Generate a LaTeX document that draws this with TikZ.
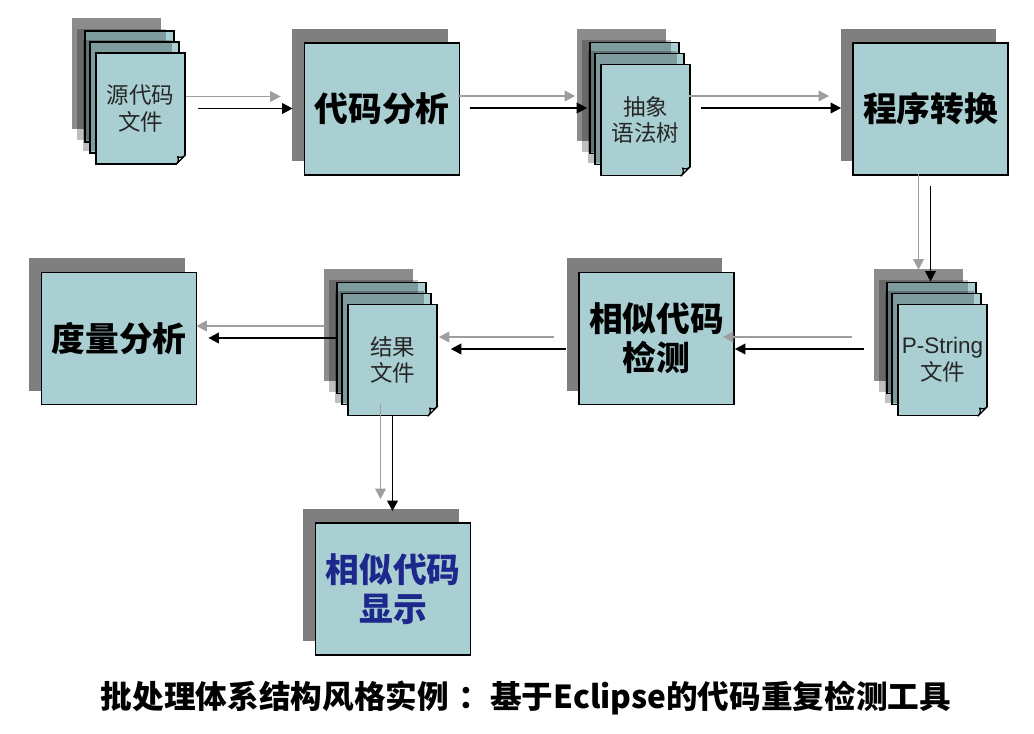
\documentclass[tikz,border=0pt]{standalone}
\usepackage{fontspec}
\setmainfont{Liberation Sans}
\newfontfamily\cjk{Noto Sans CJK SC}
\newfontfamily\latin{Liberation Sans}
\usetikzlibrary{arrows.meta,calc,shadows}

\definecolor{boxfill}{RGB}{169,207,211}
\definecolor{foldfill}{RGB}{205,228,231}
\definecolor{showblue}{RGB}{28,40,140}

\tikzset{
  procbox/.style={draw=black, line width=1.2pt, fill=boxfill, minimum width=3.875cm,
    minimum height=3.3cm, inner sep=0pt, align=center,
    font=\cjk\bfseries\fontsize{24}{28}\selectfont,
    drop shadow={shadow xshift=-0.3cm, shadow yshift=0.35cm, fill=black, opacity=0.5}},
  page/.style={draw=black, line width=1.1pt, fill=boxfill, minimum width=2.225cm,
    minimum height=2.775cm, inner sep=0pt, align=center, text=black!85,
    font=\cjk\fontsize{16}{19}\selectfont},
  pageshade/.style={drop shadow={shadow xshift=-0.325cm, shadow yshift=0.325cm, fill=black, opacity=#1}},
  pageshade/.default=0.25,
  flow/.style={line width=1.4pt, -{Triangle[length=7.5pt,width=7.5pt]}},
  flowshadow/.style={line width=1.4pt, draw=black!38, -{Triangle[length=7.5pt,width=7.5pt,fill=black!38]}}
}

% folded corner of a page
\newcommand{\pagefold}[1]{%
  \fill[white] ($(#1.south east)+(1,-11)$) -- ($(#1.south east)+(1,1)$) -- ($(#1.south east)+(-11,1)$) -- cycle;
  \draw[line width=0.9pt, fill=foldfill] ($(#1.south east)+(0,-10)$)
    .. controls ($(#1.south east)+(-4,-7)$) .. ($(#1.south east)+(-8,-8)$)
    .. controls ($(#1.south east)+(-7,-4)$) .. ($(#1.south east)+(-10,0)$) -- cycle;
}
% arrow with its grey shadow
\newcommand{\flowline}[2]{%
  \draw[flowshadow] ($#1+(-12,-12)$) -- ($#2+(-12,-12)$);
  \draw[flow] ($#1$) -- ($#2$);
}

\begin{document}
\begin{tikzpicture}[x=0.025cm,y=-0.025cm]
\useasboundingbox (0,0) rectangle (1034,734);

% processing steps
\node[procbox] (ana) at (382,109) {代码分析};
\node[procbox] (conv) at (930.5,109) {程序转换};
\node[procbox] (det) at (656.5,338.5) {相似代码\\检测};
\node[procbox] (met) at (119,338.5) {度量分析};
\node[procbox, text=showblue] (disp) at (393,589) {相似代码\\显示};

% file stacks
\node[page, pageshade=0.45] (src-b) at (129.5,86.5) {};
\node[page, pageshade] (src-m) at (134.5,97.5) {};
\node[page, pageshade] (src) at (140.5,108.5) {源代码\\文件};
\pagefold{src}
\node[page, pageshade=0.45] (ast-b) at (634.5,98) {};
\node[page, pageshade] (ast-m) at (639.5,109) {};
\node[page, pageshade] (ast) at (645.5,120) {抽象\\语法树};
\pagefold{ast}
\node[page, pageshade=0.45] (pstr-b) at (931.5,338) {};
\node[page, pageshade] (pstr-m) at (936.5,349) {};
\node[page, pageshade] (pstr) at (942.5,360) {{\latin P-String}\\文件};
\pagefold{pstr}
\node[page, pageshade=0.45] (res-b) at (381.5,338) {};
\node[page, pageshade] (res-m) at (386.5,349) {};
\node[page, pageshade] (res) at (392.5,360) {结果\\文件};
\pagefold{res}

% flow
\flowline{(src.east)+(12,0)}{(src.east -| ana.west)+(-11,0)}
\flowline{(ana.east)+(10,-1)}{(ana.east -| ast.west)+(-13,-1)}
\flowline{(conv.west -| ast.east)+(10,-1)}{(conv.west)+(-11,-1)}
\flowline{(conv.south)+(0,10)}{(conv.south |- pstr.north)+(0,-22)}
\flowline{(pstr.west)+(-33,-11)}{(pstr.west -| det.east)+(0,-11)}
\flowline{(det.west)+(-12,10.5)}{(det.west -| res.east)+(13,10.5)}
\flowline{(res.west)+(-10,-22)}{(res.west -| met.east)+(11,-22)}
\flowline{(res.south)}{(res.south |- disp.north)+(0,-11)}

\node[font=\cjk\bfseries\fontsize{22.5}{27}\selectfont] (title) at (526,698)
  {批处理体系结构风格实例\hspace{0.3em}：基于Eclipse的代码重复检测工具};
\end{tikzpicture}
\end{document}
